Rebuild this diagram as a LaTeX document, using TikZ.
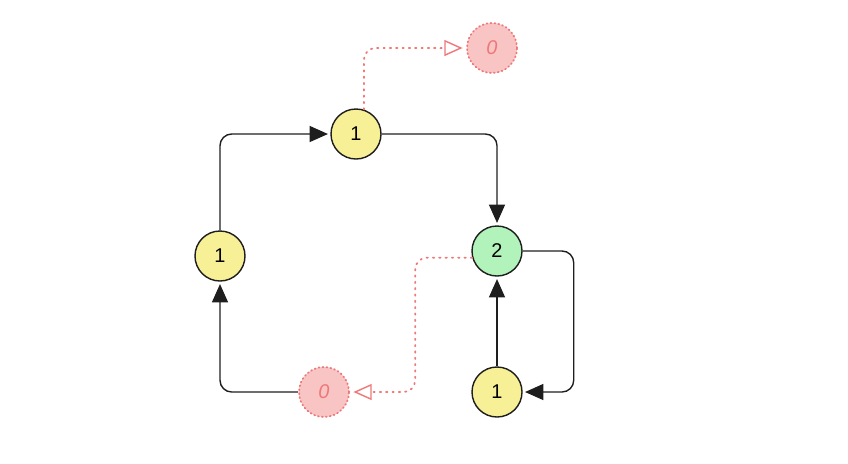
\documentclass[tikz,border=0pt]{standalone}
\usepackage{fontspec}
\setmainfont{Liberation Sans}
\usetikzlibrary{arrows.meta}
\definecolor{nodeyellow}{RGB}{247,240,150}
\definecolor{nodegreen}{RGB}{178,242,187}
\definecolor{nodepink}{RGB}{248,196,196}
\definecolor{linepink}{RGB}{238,120,120}
\definecolor{inkblack}{RGB}{30,30,30}
\begin{document}
\begin{tikzpicture}[x=0.03cm, y=-0.03cm,
    counter/.style={draw=inkblack, circle, line width=1.2pt, minimum size=1.5cm, inner sep=0pt, font=\fontsize{17}{20}\selectfont},
    zero/.style={draw=linepink, circle, line width=1.5pt, dash pattern=on 0.8pt off 2.6pt, line cap=round, minimum size=1.5cm, inner sep=0pt, fill=nodepink, text=linepink, font=\fontsize{17}{20}\selectfont\itshape},
    edge/.style={draw=inkblack, line width=1.2pt, rounded corners=0.35cm, -{Triangle[length=0.55cm, width=0.48cm]}, shorten >=2pt},
    drop/.style={draw=linepink, line width=1.5pt, dash pattern=on 1.2pt off 4.2pt, line cap=round, rounded corners=0.35cm, -{Triangle[open, length=0.55cm, width=0.48cm, line width=1.2pt]}, shorten >=3pt}]

    \useasboundingbox (0,0) rectangle (848,463);

    % Draw the counters
    \node[counter, fill=nodeyellow] (top) at (356, 134) {1};
    \node[counter, fill=nodeyellow] (left) at (220, 256) {1};
    \node[counter, fill=nodegreen] (two) at (497, 251) {2};
    \node[counter, fill=nodeyellow] (bottom) at (497, 392) {1};

    % Draw the dropped ones
    \node[zero] (zerotop) at (492, 48) {0};
    \node[zero] (zerobottom) at (324, 392) {0};

    % Draw connections
    \draw[edge] (left.north) |- (top.west);
    \draw[edge] (top.east) -| (two.north);
    \draw[edge] (two.east) -- ++(51, 0) |- (bottom.east);
    \draw[edge] (bottom.north) -- (two.south);
    \draw[edge] (zerobottom.west) -| (left.south);

    % Dotted links to the zeros
    \draw[drop] (top.72) |- (zerotop.west);
    \draw[drop] (two.195) -- ++(-57, 0) |- (zerobottom.east);

\end{tikzpicture}
\end{document}
